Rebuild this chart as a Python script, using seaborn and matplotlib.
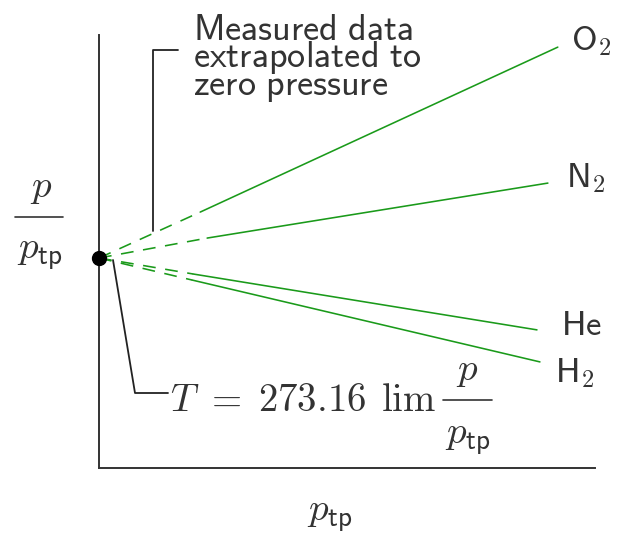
import matplotlib
matplotlib.use("Agg")
import matplotlib.pyplot as plt
from matplotlib.lines import Line2D
import seaborn as sns

sns.set_theme(style="white")
plt.rcParams["font.family"] = ["DejaVu Sans"]
plt.rcParams["mathtext.fontset"] = "cm"

# Schematic gas-thermometer data (arbitrary units)
gases = ["O", "N", "He", "H"]
subscripts = ["2", "2", "", "2"]
intercept = 0.485                      # common zero-pressure limit
x_measured_start = [0.204, 0.218, 0.190, 0.188]
y_measured_start = [0.591, 0.531, 0.448, 0.434]
x_measured_end = [0.925, 0.905, 0.883, 0.889]
y_measured_end = [0.972, 0.658, 0.319, 0.245]

GREEN = "#1a9a1a"
INK = "#333333"
W, H = 617, 534

fig = plt.figure(figsize=(W / 100, H / 100), dpi=100)
ax = fig.add_axes([99 / W, (H - 468) / H, 496 / W, 433 / H])
ax.set_xlim(0, 1)
ax.set_ylim(0, 1)
ax.set_xticks([])
ax.set_yticks([])
for s in ("top", "right"):
    ax.spines[s].set_visible(False)
for s in ("left", "bottom"):
    ax.spines[s].set_color(INK)
    ax.spines[s].set_linewidth(1.4)


def fx(px):
    return px / W


def fy(py):
    return 1 - py / H


def text(px, py, s, size, ha="left", va="baseline", **kw):
    fig.text(fx(px), fy(py), s, fontsize=size, color=INK, ha=ha, va=va, **kw)


def hline(x0, x1, py):
    fig.add_artist(Line2D([fx(x0), fx(x1)], [fy(py), fy(py)], color=INK, lw=1.2))


for i in range(len(gases)):
    # measured range (solid)
    sns.lineplot(x=[x_measured_start[i], x_measured_end[i]],
                 y=[y_measured_start[i], y_measured_end[i]],
                 ax=ax, color=GREEN, lw=1.15)
    # extrapolation to zero pressure (dashed)
    sns.lineplot(x=[0.0, x_measured_start[i]],
                 y=[intercept, y_measured_start[i]],
                 ax=ax, color=GREEN, lw=1.15, linestyle=(0, (8, 6)))

ax.plot([0], [intercept], "o", color="black", ms=10, clip_on=False, zorder=5)

# gas labels
label_pos = [(571, 50), (566, 187), (561, 335), (555, 382)]
for name, sub, (px, py) in zip(gases, subscripts, label_pos):
    s = "$\\mathsf{" + name + "}" + ("_{" + sub + "}" if sub else "") + "$"
    text(px, py, s, 25)

# annotation: measured data extrapolated
note_lines = ["Measured\\ data", "extrapolated\\ to", "zero\\ pressure"]
note = "\n".join("$\\mathsf{" + ln + "}$" for ln in note_lines)
text(193, 13, note, 26, va="top", linespacing=0.71)
fig.add_artist(Line2D([fx(178), fx(153), fx(153)], [fy(50), fy(50), fy(231)],
                      color="#222222", lw=1.3))

# annotation: limiting temperature
fig.add_artist(Line2D([fx(113), fx(135), fx(168)], [fy(260), fy(393), fy(393)],
                      color="#222222", lw=1.3))
text(170, 411, r"$T$", 28)
text(205, 411, r"$=$", 28)
text(258, 411, r"$273.16$", 28)
text(381, 411, r"$\lim$", 28)
text(467, 380, r"$p$", 28, ha="center")
hline(443, 492, 400)
text(468, 443, r"$p_{\mathsf{tp}}$", 28, ha="center")

# axis labels
text(41, 197, r"$p$", 28, ha="center")
hline(15, 63, 217)
text(40, 258, r"$p_{\mathsf{tp}}$", 28, ha="center")
text(330, 520, r"$p_{\mathsf{tp}}$", 28, ha="center")

fig.savefig("out.png", dpi=100)
